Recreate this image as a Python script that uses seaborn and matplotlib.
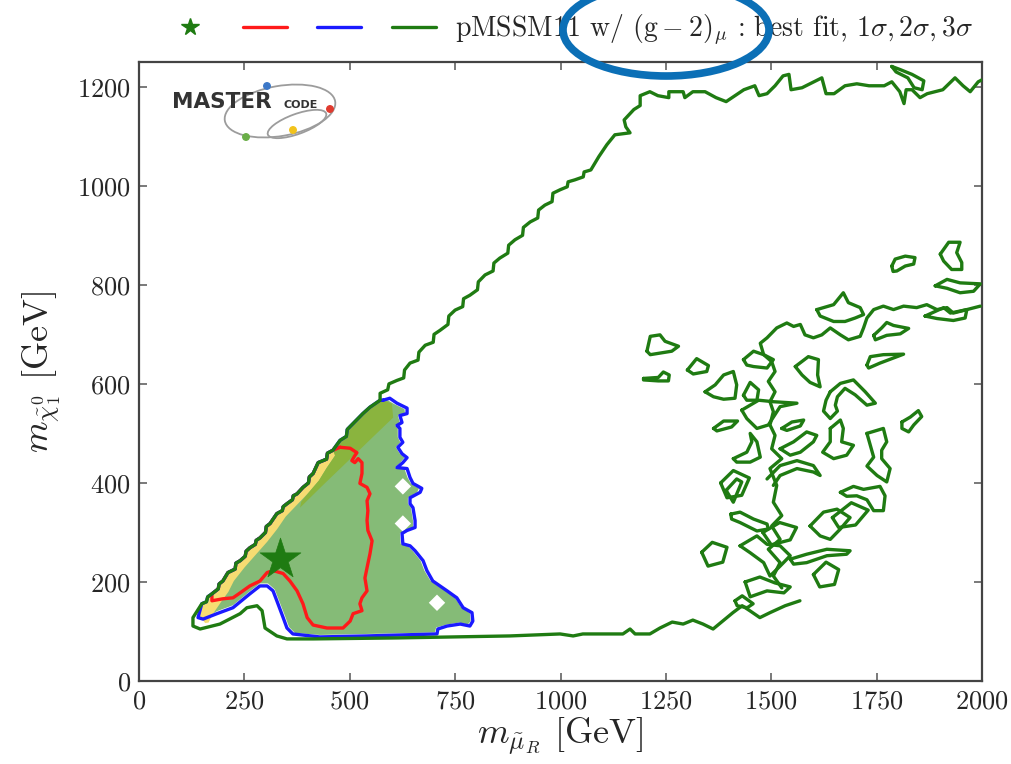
import matplotlib
matplotlib.use("Agg")
import matplotlib.pyplot as plt
from matplotlib.patches import Ellipse
from matplotlib.lines import Line2D
import numpy as np
import pandas as pd
import seaborn as sns

# ---------------- data (GeV) ----------------
X_TICKS = [0, 250, 500, 750, 1000, 1250, 1500, 1750, 2000]
Y_TICKS = [0, 200, 400, 600, 800, 1000, 1200]
BEST_FIT_X = [335]
BEST_FIT_Y = [247]
HOLES_X = [626, 626, 707]
HOLES_Y = [393, 318, 158]

GREEN_DIAG = [(128, 128), (149, 156), (160, 160), (163, 170), (173, 176), (188, 186), (190, 196), (199, 202),
              (211, 219), (228, 226), (230, 238), (240, 243), (252, 252), (254, 262), (263, 269), (276, 276),
              (278, 284), (287, 289), (300, 300), (302, 312), (311, 318), (327, 338), (340, 344), (342, 352),
              (351, 358), (364, 366), (366, 374), (375, 378), (389, 391), (402, 400), (404, 412), (413, 419),
              (425, 441), (445, 448), (447, 460), (460, 466), (477, 486), (492, 494), (494, 508), (508, 520),
              (531, 540), (548, 553), (572, 567)]

GREEN_BOTTOM = [(1568, 162), (1533, 152), (1497, 138), (1473, 128), (1449, 142), (1431, 152), (1409, 138),
                (1385, 121), (1362, 105), (1338, 115), (1314, 123), (1291, 115), (1265, 119), (1236, 107),
                (1212, 95), (1177, 95), (1165, 105), (1148, 95), (1053, 95), (1030, 91), (999, 95),
                (880, 91), (612, 87), (413, 85), (351, 85), (327, 91), (299, 107), (292, 142), (280, 152),
                (256, 148), (240, 136), (192, 115), (145, 105), (128, 111)]

GREEN_TOP = [(572, 581), (590, 588), (593, 600), (612, 607), (628, 612), (630, 628), (643, 642), (662, 648),
             (664, 664), (679, 678), (698, 684), (700, 700), (714, 708), (733, 720), (735, 737), (750, 749),
             (768, 756), (770, 772), (785, 779), (803, 790), (805, 806), (821, 820), (840, 828), (842, 844),
             (856, 854), (875, 864), (877, 880), (892, 891), (910, 900), (912, 916), (928, 927), (946, 935),
             (948, 951), (963, 961), (980, 968), (982, 985), (999, 992), (1016, 998), (1018, 1008),
             (1034, 1012), (1054, 1018), (1056, 1028), (1072, 1032), (1091, 1059), (1110, 1083),
             (1129, 1103), (1165, 1107), (1155, 1119), (1151, 1133), (1174, 1154), (1189, 1162), (1189, 1182),
             (1212, 1190), (1231, 1182), (1257, 1178), (1257, 1190), (1291, 1190), (1295, 1178), (1314, 1190),
             (1343, 1190), (1369, 1178), (1393, 1170), (1407, 1178), (1435, 1194), (1461, 1202), (1471, 1182),
             (1490, 1186), (1509, 1202), (1528, 1222), (1542, 1225), (1547, 1194), (1573, 1198), (1601, 1210),
             (1620, 1218), (1630, 1186), (1649, 1186), (1675, 1202), (1703, 1206), (1732, 1202), (1768, 1202),
             (1786, 1210), (1805, 1190), (1815, 1166), (1820, 1194), (1834, 1194), (1853, 1178), (1870, 1186),
             (1907, 1194), (1936, 1218), (1955, 1202), (1972, 1190), (1991, 1210), (2000, 1214)]

RED_1SIG = [(477, 472), (501, 470), (517, 461), (512, 455), (505, 445), (512, 441), (520, 449), (529, 441),
            (529, 419), (524, 399), (541, 391), (548, 378), (541, 364), (543, 344), (541, 324), (543, 304),
            (553, 283), (548, 257), (543, 237), (536, 208), (541, 182), (529, 168), (524, 156), (529, 142),
            (508, 136), (501, 121), (484, 107), (446, 107), (413, 113), (399, 128), (389, 156), (375, 182),
            (358, 202), (342, 217), (318, 223), (304, 219), (287, 202), (263, 192), (240, 178), (223, 168),
            (199, 166), (173, 162), (173, 176), (188, 186), (190, 196), (199, 202), (211, 219), (228, 226),
            (230, 238), (240, 243), (252, 252), (254, 262), (263, 269), (276, 276), (278, 284), (287, 289),
            (300, 300), (302, 312), (311, 318), (327, 338), (340, 344), (342, 352), (351, 358), (364, 366),
            (366, 374), (375, 378), (389, 391), (402, 400), (404, 412), (413, 419), (425, 441), (445, 448),
            (447, 460), (460, 466), (477, 472)]

BLUE_2SIG = [(579, 567), (595, 571), (612, 561), (636, 551), (636, 540), (619, 536), (624, 522), (612, 516),
             (619, 510), (619, 492), (626, 482), (614, 472), (624, 459), (636, 451), (626, 441), (612, 431),
             (636, 429), (643, 411), (650, 399), (671, 389), (667, 381), (643, 370), (643, 358), (650, 350),
             (655, 324), (655, 310), (636, 304), (624, 298), (626, 277), (643, 273), (655, 263), (674, 243),
             (683, 223), (697, 202), (731, 182), (754, 168), (769, 148), (790, 138), (792, 121), (785, 111),
             (762, 115), (731, 111), (709, 105), (707, 95), (541, 91), (429, 89), (365, 95), (351, 107),
             (342, 128), (327, 162), (318, 182), (304, 192), (287, 192), (263, 176), (223, 148), (185, 136),
             (152, 125), (140, 128), (149, 156), (160, 160), (163, 170), (173, 176), (188, 186), (190, 196),
             (199, 202), (211, 219), (228, 226), (230, 238), (240, 243), (252, 252), (254, 262), (263, 269),
             (276, 276), (278, 284), (287, 289), (300, 300), (302, 312), (311, 318), (327, 338), (340, 344),
             (342, 352), (351, 358), (364, 366), (366, 374), (375, 378), (389, 391), (402, 400), (404, 412),
             (413, 419), (425, 441), (445, 448), (447, 460), (460, 466), (477, 486), (492, 494), (494, 508),
             (508, 520), (531, 540), (548, 553), (572, 567), (579, 567)]

FILL_MAIN = [(157, 121), (149, 156), (160, 160), (163, 170), (173, 176), (188, 186), (190, 196), (199, 202),
             (211, 219), (228, 226), (230, 238), (240, 243), (252, 252), (254, 262), (263, 269), (276, 276),
             (278, 284), (287, 289), (300, 300), (302, 312), (311, 318), (327, 338), (340, 344), (342, 352),
             (351, 358), (364, 366), (366, 374), (375, 378), (389, 391), (402, 400), (404, 412), (413, 419),
             (425, 441), (445, 448), (447, 460), (460, 466), (477, 486), (492, 494), (494, 508), (508, 520),
             (531, 540), (548, 553), (572, 567), (590, 567), (606, 559), (630, 549), (631, 540), (614, 536),
             (619, 522), (607, 516), (614, 510), (614, 492), (620, 482), (609, 472), (619, 459), (630, 451),
             (620, 441), (607, 431), (630, 428), (637, 411), (645, 399), (664, 389), (660, 381), (638, 370),
             (638, 358), (645, 350), (650, 324), (650, 310), (631, 304), (619, 298), (621, 277), (638, 272),
             (650, 262), (668, 243), (677, 223), (691, 203), (726, 183), (749, 169), (764, 149), (785, 137),
             (787, 121), (780, 114), (760, 118), (730, 114), (705, 108), (702, 98), (541, 95), (429, 93),
             (370, 97), (356, 109), (347, 130), (332, 163), (322, 185), (306, 197), (287, 197), (263, 181),
             (223, 153), (185, 141), (160, 128)]

FILL_YELLOW = [(460, 466), (447, 460), (445, 448), (425, 441), (413, 419), (404, 412), (402, 400), (389, 391),
               (375, 378), (366, 374), (364, 366), (351, 358), (342, 352), (340, 344), (327, 338), (311, 318),
               (302, 312), (300, 300), (287, 289), (278, 284), (276, 276), (263, 269), (254, 262), (252, 252),
               (240, 243), (230, 238), (228, 226), (211, 219), (199, 202), (190, 196), (188, 186), (173, 176),
               (163, 170), (160, 160), (149, 156), (140, 135), (157, 117), (165, 118), (175, 135), (195, 160),
               (212, 180), (225, 202), (251, 230), (278, 256), (304, 281), (328, 307), (348, 332), (375, 356),
               (402, 380), (427, 405), (445, 430), (465, 455), (470, 468)]

FILL_OLIVE = [(579, 567), (572, 567), (548, 553), (531, 540), (508, 520), (494, 508), (492, 494), (477, 486),
              (460, 466), (465, 455), (445, 430), (427, 405), (402, 380), (385, 362), (382, 350), (437, 396),
              (492, 441), (548, 487), (603, 532), (600, 560)]

ISLANDS = [
    [(1205, 666), (1213, 696), (1236, 699), (1248, 686), (1280, 676), (1264, 666), (1213, 659)],
    [(1197, 611), (1232, 613), (1244, 624), (1258, 618), (1256, 606), (1232, 606), (1197, 608)],
    [(1301, 628), (1323, 651), (1351, 637), (1347, 625), (1315, 620)],
    [(1343, 584), (1367, 598), (1387, 618), (1410, 625), (1418, 598), (1414, 571), (1387, 569), (1363, 574)],
    [(1363, 510), (1387, 525), (1420, 525), (1406, 513), (1371, 505)],
    [(1434, 577), (1450, 603), (1470, 588), (1466, 567), (1442, 567)],
    [(1430, 547), (1470, 567), (1505, 564), (1561, 561), (1521, 554), (1493, 517), (1466, 510), (1442, 530)],
    [(1434, 649), (1458, 666), (1482, 659), (1505, 649), (1490, 632), (1458, 635), (1442, 638)],
    [(1608, 750), (1648, 760), (1671, 784), (1683, 764), (1711, 754), (1719, 740), (1699, 733), (1675, 726),
     (1648, 726), (1616, 737)],
    [(1901, 862), (1921, 886), (1948, 886), (1940, 865), (1952, 845), (1952, 831), (1928, 831), (1909, 848)],
    [(1786, 838), (1794, 852), (1818, 858), (1841, 855), (1838, 842), (1818, 838), (1798, 828), (1789, 827)],
    [(1889, 798), (1917, 811), (1948, 804), (1996, 802), (1980, 787), (1948, 784), (1917, 793)],
    [(1865, 737), (1909, 754), (1925, 743), (1964, 750), (1960, 733), (1932, 728), (1893, 732)],
    [(1743, 698), (1762, 713), (1774, 724), (1790, 718), (1826, 712), (1806, 701), (1774, 698), (1747, 689)],
    [(1727, 638), (1735, 655), (1766, 659), (1814, 660), (1786, 651), (1758, 642), (1731, 632)],
    [(1557, 635), (1588, 655), (1612, 649), (1610, 618), (1616, 594), (1592, 603), (1573, 618)],
    [(1640, 584), (1664, 601), (1695, 608), (1723, 584), (1747, 561), (1727, 557), (1699, 578), (1675, 591),
     (1657, 574), (1652, 557), (1657, 545), (1640, 530), (1624, 545), (1630, 567)],
    [(1810, 523), (1830, 533), (1849, 546), (1857, 534), (1838, 517), (1826, 503), (1810, 510)],
    [(1727, 500), (1766, 510), (1774, 483), (1762, 466), (1762, 449), (1782, 429), (1774, 402), (1751, 415),
     (1727, 434), (1743, 452), (1735, 476)],
    [(1640, 510), (1664, 527), (1671, 510), (1667, 483), (1695, 476), (1679, 456), (1648, 449), (1622, 462),
     (1640, 483)],
    [(1664, 381), (1695, 393), (1719, 387), (1758, 393), (1770, 374), (1766, 344), (1743, 344), (1727, 366),
     (1703, 374), (1679, 373)],
    [(1410, 449), (1442, 462), (1454, 483), (1450, 500), (1466, 483), (1474, 452), (1450, 442), (1418, 442)],
    [(1393, 385), (1418, 408), (1430, 402), (1410, 361)],
    [(1404, 337), (1426, 341), (1458, 327), (1490, 317), (1493, 307), (1466, 303), (1426, 320), (1406, 327)],
    [(1426, 273), (1466, 293), (1490, 276), (1521, 273), (1545, 253), (1521, 232), (1497, 212), (1482, 239),
     (1450, 259)],
    [(1545, 246), (1584, 256), (1632, 266), (1687, 263), (1679, 256), (1632, 253), (1584, 239), (1553, 236)],
    [(1592, 313), (1624, 341), (1656, 347), (1687, 330), (1664, 307), (1640, 286), (1616, 293)],
    [(1521, 469), (1553, 483), (1584, 503), (1608, 496), (1600, 483), (1569, 462), (1545, 456)],
    [(1525, 510), (1549, 523), (1577, 527), (1569, 515), (1537, 506)],
    [(1414, 162), (1431, 172), (1457, 156), (1443, 148), (1419, 152)],
    [(1438, 200), (1473, 210), (1509, 198), (1545, 190), (1530, 178), (1490, 182), (1450, 170)],
    [(1335, 260), (1360, 280), (1395, 270), (1385, 240), (1350, 232)],
    [(1480, 300), (1520, 320), (1560, 310), (1545, 285), (1500, 275)],
    [(1600, 215), (1630, 240), (1660, 225), (1650, 195), (1615, 190)],
    [(1645, 330), (1690, 360), (1730, 345), (1700, 315), (1660, 310)],
    [(1380, 400), (1410, 425), (1448, 410), (1430, 375), (1395, 370)],
    [(1786, 1241), (1805, 1235), (1834, 1225), (1862, 1212), (1858, 1194), (1839, 1198), (1824, 1218),
     (1796, 1230)],
]

OPEN_CHAINS = [
    [(1525, 188), (1505, 212), (1521, 239), (1493, 266), (1521, 286), (1501, 313), (1525, 334), (1505, 361),
     (1513, 395), (1497, 429), (1525, 449), (1501, 469), (1509, 496), (1497, 517), (1505, 544), (1497, 564),
     (1509, 584), (1493, 605), (1509, 625), (1501, 645), (1482, 659), (1474, 682), (1490, 693), (1513, 713),
     (1537, 723), (1553, 716), (1569, 720), (1580, 699), (1600, 693), (1620, 699), (1640, 713), (1664, 699),
     (1683, 689), (1711, 696), (1719, 713), (1727, 733), (1743, 750), (1766, 757), (1790, 750), (1814, 757),
     (1845, 754), (1869, 760), (1893, 750), (1917, 754), (1932, 743), (1964, 750), (1996, 757)],
    [(1490, 408), (1521, 435), (1561, 445), (1600, 435), (1616, 415), (1600, 422), (1561, 429), (1521, 415),
     (1505, 395)],
]

LEGEND_TEXT = r"pMSSM11 w/ $(\mathrm{g}-2)_\mu$ : best fit, $1\sigma, 2\sigma, 3\sigma$"

# ---------------- styling ----------------
GREEN = "#1f7b12"
RED = "#ff1a1a"
BLUE = "#1a1aff"
C_FILL = "#85bb77"
C_OLIVE = "#8ab43e"
C_YELLOW = "#f6dc72"
LW = 2.4

sns.set_theme(style="ticks")
plt.rcParams.update({
    "font.family": "serif",
    "font.serif": ["cmr10", "DejaVu Serif"],
    "mathtext.fontset": "cm",
    "axes.formatter.use_mathtext": True,
    "axes.unicode_minus": False,
})

fig = plt.figure(figsize=(10.11, 7.64), dpi=100)
ax = fig.add_axes([139 / 1011, 1 - 681 / 764, 843 / 1011, 619 / 764])


def xy(pts):
    a = np.array(pts, dtype=float)
    return a[:, 0], a[:, 1]


def draw(pts, color, closed=False, z=3):
    if closed:
        pts = list(pts) + [pts[0]]
    x, y = xy(pts)
    sns.lineplot(x=x, y=y, sort=False, estimator=None, color=color, linewidth=LW, ax=ax, zorder=z)


for poly, col in [(FILL_MAIN, C_FILL), (FILL_YELLOW, C_YELLOW), (FILL_OLIVE, C_OLIVE)]:
    x, y = xy(poly)
    ax.fill(x, y, color=col, lw=0, zorder=1)

sns.scatterplot(x=HOLES_X, y=HOLES_Y, marker="D", s=70, color="white", edgecolor="none", ax=ax, zorder=2)

draw(RED_1SIG, RED, z=3)
draw(BLUE_2SIG, BLUE, z=4)
draw(GREEN_BOTTOM + GREEN_DIAG + GREEN_TOP, GREEN, z=5)
for isl in ISLANDS:
    draw(isl, GREEN, closed=True, z=5)
for ch in OPEN_CHAINS:
    draw(ch, GREEN, z=5)

sns.scatterplot(x=BEST_FIT_X, y=BEST_FIT_Y, marker="*", s=950, color=GREEN, edgecolor=GREEN,
                linewidth=0.5, ax=ax, zorder=10)

ax.set_xlim(0, 2000)
ax.set_ylim(0, 1250)
ax.set_xticks(X_TICKS)
ax.set_yticks(Y_TICKS)
ax.tick_params(direction="in", top=True, right=True, length=6, width=1.1, color="#555555",
               labelsize=19, pad=6)
for s in ax.spines.values():
    s.set_visible(True)
    s.set_color("#444444")
    s.set_linewidth(1.6)
ax.set_xlabel(r"$m_{\tilde{\mu}_R}$ [GeV]", fontsize=26, labelpad=2)
ax.set_ylabel(r"$m_{\tilde{\chi}^0_1}$ [GeV]", fontsize=26, labelpad=10)

# legend
handles = [
    Line2D([], [], marker="*", color=GREEN, linestyle="None", markersize=13),
    Line2D([], [], color=RED, lw=LW),
    Line2D([], [], color=BLUE, lw=LW),
    Line2D([], [], color=GREEN, lw=LW),
]
fig.legend(handles, ["", "", "", LEGEND_TEXT], loc="center left", ncol=4,
           bbox_to_anchor=(168 / 1011, 1 - 30 / 764), bbox_transform=fig.transFigure,
           frameon=False, fontsize=20, handlelength=1.58, handletextpad=0.68,
           columnspacing=0.43, borderpad=0, borderaxespad=0)

# logo
lax = fig.add_axes([165 / 1011, 1 - 148 / 764, 175 / 1011, 78 / 764], zorder=15)
lax.set_xlim(165, 340)
lax.set_ylim(148, 70)
lax.axis("off")
lax.add_patch(Ellipse((280, 111), 112, 50, angle=-10, fill=False, ec="#9c9c9c", lw=1.3))
lax.add_patch(Ellipse((297, 124), 62, 20, angle=-20, fill=False, ec="#9c9c9c", lw=1.3))
lax.text(172, 108, "MASTER", fontsize=15.5, fontweight="bold", family="DejaVu Sans",
         color="#333333", va="baseline")
lax.text(284, 108, "CODE", fontsize=8, fontweight="bold", family="DejaVu Sans",
         color="#333333", va="baseline")
lax.scatter([267, 330, 293, 246], [86, 109, 130, 137], s=22,
            c=["#3c78c8", "#e03a2e", "#f2c31b", "#6aae48"], zorder=5)

# annotation ellipse
oax = fig.add_axes([0, 0, 1, 1], zorder=20)
oax.set_xlim(0, 1011)
oax.set_ylim(764, 0)
oax.axis("off")
oax.add_patch(Ellipse((666, 30), 206, 92, fill=False, ec="#0b6fb6", lw=5.5, clip_on=False))

fig.savefig("out.png", dpi=100)
